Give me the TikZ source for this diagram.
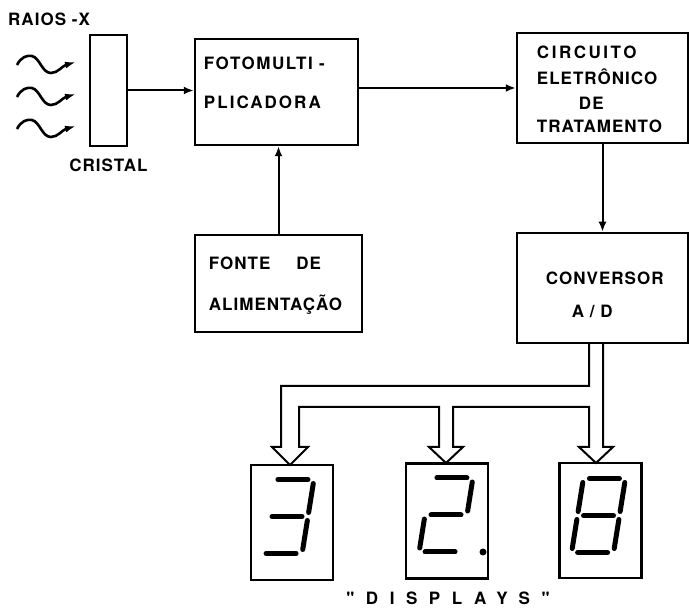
\documentclass[tikz,border=0pt]{standalone}
\usepackage{fontspec}
\newfontfamily\letreiro{TeX Gyre Heros}[LetterSpace=6]
\usetikzlibrary{arrows.meta, positioning, calc}
\newcommand{\espaco}[2]{{\addfontfeature{LetterSpace=#1}#2}}
\tikzset{
  rotulo/.style={font=\letreiro\fontsize{17}{20}\selectfont\bfseries, inner sep=0pt},
  caja/.style={draw, line width=2.5pt, inner sep=0pt},
  visor/.style={draw, line width=2.2pt, minimum width=82pt, minimum height=115pt},
  flecha/.style={-{Latex[length=10pt,width=8pt]}, line width=2pt},
  onda/.style={-{Latex[length=11pt,width=7pt]}, line width=2.6pt},
  barramento/.style={line width=2pt, line join=miter},
  segmento/.style={line width=5pt, line cap=round},
}
\begin{document}
\begin{tikzpicture}[x=1pt, y=1pt]
  \useasboundingbox (0,0) rectangle (690,610);
  % cristal e raios
  \node[caja, minimum width=37pt, minimum height=111pt] (cristal) at (108.5,519.5) {};
  \node[rotulo, below=11pt of cristal] (tCristal) {CRISTAL};
  \node[rotulo, anchor=west] (raios) at (8,590.5) {RAIOS\ -X};
  \foreach \yc in {547,515,483}
    \draw[onda] (17,\yc-2) .. controls (21,\yc+6) and (27,\yc+8) .. (32,\yc+7)
      .. controls (40,\yc+5) and (42,\yc-10) .. (51,\yc-10)
      .. controls (58,\yc-10) and (62,\yc-3) .. (76,\yc+1);

  % blocos
  \node[caja, minimum width=163pt, minimum height=106pt,
    label={[rotulo, anchor=north west, align=left, xshift=10pt, yshift=-19pt]north west:\espaco{9}{FOTOMULTI -}\\[19pt]\espaco{12}{PLICADORA}}] (fotomulti) at (276.5,518) {};
  \node[caja, minimum width=171pt, minimum height=110pt,
    label={[rotulo, anchor=north west, align=left, xshift=21pt, yshift=-14pt, font=\letreiro\fontsize{17}{23}\selectfont\bfseries]north west:\espaco{15}{CIRCUITO}\\[2.6pt]ELETRÔNICO\\[2.7pt]\hspace*{42pt}DE\\TRATAMENTO}] (circuito) at (602.5,522) {};
  \node[caja, minimum width=167pt, minimum height=97pt,
    label={[rotulo, anchor=north west, align=left, xshift=15pt, yshift=-23pt]north west:FONTE\hspace{26pt}DE\\[21pt]ALIMENTAÇÃO}] (fonte) at (278.5,326.5) {};
  \node[caja, minimum width=171pt, minimum height=110pt,
    label={[rotulo, anchor=north west, align=left, xshift=30pt, yshift=-40pt]north west:CONVERSOR\\[13pt]\hspace*{26pt}A / D}] (conversor) at (602.5,322) {};

  \draw[flecha] (cristal.east) -- (cristal.east -| fotomulti.west);
  \draw[flecha] (fotomulti.east |- circuito.west) -- (circuito.west);
  \draw[flecha] (circuito.south) -- (conversor.north);
  \draw[flecha] (fonte.north) -- (fonte.north |- fotomulti.south);

  % displays
  \node[visor] (d1) at (292,87.5) {};
  \node[visor] (d2) at (447,89) {};
  \node[visor] (d3) at (600.5,89.5) {};
  \node[rotulo, below=12pt of d2, xshift=1pt,
    font=\letreiro\fontsize{17}{20}\selectfont\bfseries\addfontfeature{LetterSpace=68}] (tDisplays) {"DISPLAYS"};

  \begin{scope}[shift={(d1.center)}, shift={(-5,6)}, xslant=0.16]
    \foreach \xa/\ya/\xb/\yb in {-15/37/15/37, 21/33/21/4, 21/-4/21/-33, -15/-37/15/-37, -15/0/15/0}
      \draw[segmento] (\xa,\ya) -- (\xb,\yb);
  \end{scope}
  \begin{scope}[shift={(d2.center)}, shift={(-1,6)}, xslant=0.16]
    \foreach \xa/\ya/\xb/\yb in {-15/37/15/37, 21/33/21/4, -15/0/15/0, -21/-4/-21/-33, -15/-37/15/-37}
      \draw[segmento] (\xa,\ya) -- (\xb,\yb);
  \end{scope}
  \fill (d2.center) ++(36,-31) circle (3.5pt);
  \begin{scope}[shift={(d3.center)}, shift={(-2,5)}, xslant=0.16]
    \foreach \xa/\ya/\xb/\yb in {-15/37/15/37, 21/33/21/4, 21/-4/21/-33, -15/-37/15/-37, -15/0/15/0, -21/-4/-21/-33, -21/33/-21/4}
      \draw[segmento] (\xa,\ya) -- (\xb,\yb);
  \end{scope}

  % barramento
  \coordinate (sA) at ($(conversor.south)+(-13.5,0)$);
  \coordinate (sB) at ($(conversor.south)+(0.5,0)$);
  \draw[barramento] (sA) -- (589,224) -- (281,224) -- (281,163) -- (272,163) -- (290,145)
    -- (308,163) -- (299,163) -- (299,203) -- (439,203) -- (439,163) -- (429,163)
    -- (446,147) -- (463,163) -- (453,163) -- (453,203) -- (589,203) -- (589,163)
    -- (579,163) -- (596,147) -- (613,163) -- (603,163) -- (sB);
\end{tikzpicture}
\end{document}
